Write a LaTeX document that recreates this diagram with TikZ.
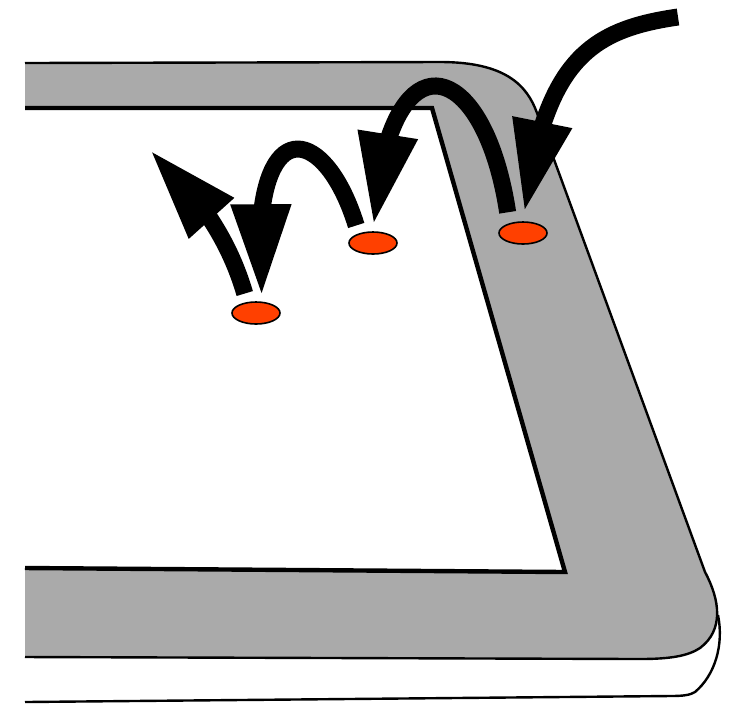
\documentclass[tikz,border=0pt]{standalone}
\usetikzlibrary{arrows.meta,bending,shapes.geometric}
\definecolor{bezelgray}{RGB}{170,170,170}
\definecolor{spotred}{RGB}{255,64,0}
\tikzset{
  edge/.style={line width=1.2pt, line join=round},
  window/.style={line width=2.2pt, fill=white, line join=miter},
  spot/.style={ellipse, draw, line width=0.8pt, fill=spotred,
    minimum width=24pt, minimum height=11pt, inner sep=0pt},
  flow/.style={line width=8.5pt, -{Triangle[length=46pt, width=28pt, flex]}},
  gap/.style={preaction={draw=white, line width=11.5pt, -}},
}
\begin{document}
\begin{tikzpicture}[x=0.5pt, y=-0.5pt]
  \useasboundingbox (0,0) rectangle (743,709);
  % Lower layer
  \draw[edge] (718,615) .. controls (724,645) and (715,675) .. (695,692)
    .. controls (690,695) and (684,696) .. (670,696) -- (25,702);
  % Bezel
  \draw[edge, fill=bezelgray] (25,63) -- (440,62)
    .. controls (505,62) and (527,85) .. (537,113) -- (705,572)
    .. controls (720,600) and (724,630) .. (700,648)
    .. controls (688,656) and (670,659) .. (640,659) -- (25,657);
  % Screen
  \draw[window] (25,108) -- (432,108) -- (565,572) -- (25,568);
  % Touch points
  \foreach \n/\x/\y in {s1/523/233, s2/373/243, s3/256/313}
    \node[spot] (\n) at (\x,\y) {};
  \coordinate (entry) at (678,17);
  \coordinate (exit) at (150,150);
  % Arrows
  \draw[flow, shorten >=4.5pt] (entry) .. controls (588,30) and (543,62) .. (s1.north);
  \draw[flow, shorten <=4.5pt, shorten >=3pt] ([xshift=-7pt]s1.north)
    .. controls (483,50) and (385,30) .. (s2.north);
  \draw[flow, shorten <=3pt, shorten >=2.5pt] ([xshift=-7.5pt]s2.north)
    .. controls (322,115) and (245,110) .. ([xshift=3pt]s3.north);
  \draw[flow, gap, shorten <=4pt] ([xshift=-4.5pt]s3.north)
    .. controls (232,250) and (210,205) .. (exit);
\end{tikzpicture}
\end{document}
